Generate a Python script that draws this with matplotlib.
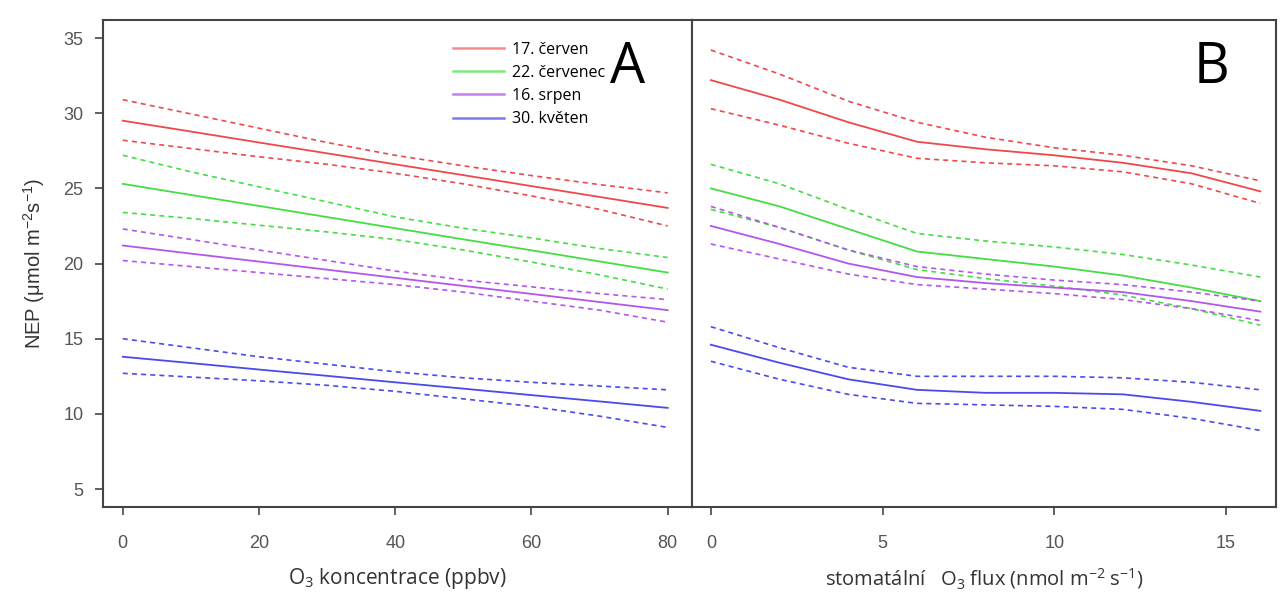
import numpy as np
import matplotlib.pyplot as plt

plt.rcParams['font.family'] = ['Liberation Sans', 'DejaVu Sans']
plt.rcParams['mathtext.default'] = 'regular'

# Panel A: O3 concentration (ppbv)
xa = [0, 10, 20, 30, 40, 50, 60, 70, 80]
a_red = [29.5, 28.78, 28.05, 27.33, 26.6, 25.88, 25.15, 24.43, 23.7]
a_red_hi = [30.9, 29.95, 29.0, 28.05, 27.2, 26.5, 25.85, 25.25, 24.7]
a_red_lo = [28.2, 27.65, 27.1, 26.6, 26.0, 25.3, 24.5, 23.6, 22.5]
a_green = [25.3, 24.56, 23.83, 23.09, 22.35, 21.61, 20.88, 20.14, 19.4]
a_green_hi = [27.2, 26.1, 25.1, 24.1, 23.1, 22.35, 21.7, 21.0, 20.4]
a_green_lo = [23.4, 23.0, 22.55, 22.1, 21.6, 20.9, 20.1, 19.25, 18.3]
a_purple = [21.2, 20.66, 20.13, 19.59, 19.05, 18.51, 17.98, 17.44, 16.9]
a_purple_hi = [22.3, 21.6, 20.9, 20.2, 19.5, 18.9, 18.45, 18.0, 17.6]
a_purple_lo = [20.2, 19.8, 19.4, 19.0, 18.6, 18.1, 17.5, 16.9, 16.1]
a_blue = [13.8, 13.38, 12.95, 12.53, 12.1, 11.68, 11.25, 10.83, 10.4]
a_blue_hi = [15.0, 14.4, 13.8, 13.3, 12.8, 12.4, 12.1, 11.85, 11.6]
a_blue_lo = [12.7, 12.45, 12.2, 11.9, 11.5, 11.0, 10.5, 9.85, 9.1]

# Panel B: stomatal O3 flux
xb = [0, 2, 4, 6, 8, 10, 12, 14, 16]
b_red = [32.2, 30.9, 29.4, 28.1, 27.6, 27.2, 26.7, 26.0, 24.8]
b_red_hi = [34.2, 32.6, 30.8, 29.4, 28.4, 27.7, 27.2, 26.5, 25.5]
b_red_lo = [30.3, 29.2, 28.0, 27.0, 26.7, 26.5, 26.1, 25.3, 24.0]
b_green = [25.0, 23.8, 22.3, 20.8, 20.3, 19.8, 19.2, 18.4, 17.5]
b_green_hi = [26.6, 25.3, 23.6, 22.0, 21.5, 21.1, 20.6, 19.9, 19.1]
b_green_lo = [23.6, 22.4, 20.9, 19.6, 19.0, 18.5, 17.9, 17.0, 15.9]
b_purple = [22.5, 21.3, 20.0, 19.1, 18.7, 18.4, 18.1, 17.5, 16.8]
b_purple_hi = [23.8, 22.4, 20.9, 19.8, 19.3, 18.9, 18.6, 18.1, 17.5]
b_purple_lo = [21.3, 20.3, 19.3, 18.6, 18.3, 18.0, 17.6, 17.0, 16.2]
b_blue = [14.6, 13.4, 12.3, 11.6, 11.4, 11.4, 11.3, 10.8, 10.2]
b_blue_hi = [15.8, 14.4, 13.1, 12.5, 12.5, 12.5, 12.4, 12.1, 11.6]
b_blue_lo = [13.5, 12.3, 11.3, 10.7, 10.6, 10.5, 10.3, 9.7, 8.9]

labels = ['17. červen', '22. červenec', '16. srpen', '30. květen']
colors = ['#f04848', '#44dd44', '#b455ee', '#4a4aee']
legend_colors = ['#f58a8a', '#80e880', '#c580f0', '#7c7cf0']

panel_a = [(a_red, a_red_hi, a_red_lo), (a_green, a_green_hi, a_green_lo),
           (a_purple, a_purple_hi, a_purple_lo), (a_blue, a_blue_hi, a_blue_lo)]
panel_b = [(b_red, b_red_hi, b_red_lo), (b_green, b_green_hi, b_green_lo),
           (b_purple, b_purple_hi, b_purple_lo), (b_blue, b_blue_hi, b_blue_lo)]

fig = plt.figure(figsize=(12.8, 5.98), dpi=100)
axA = fig.add_axes([0.0805, 0.152, 0.460, 0.8146])
axB = fig.add_axes([0.5406, 0.152, 0.4564, 0.8146])

edge = '#444444'
tick_col = '#555555'

for ax, x, data in [(axA, xa, panel_a), (axB, xb, panel_b)]:
    for (mid, hi, lo), c in zip(data, colors):
        ax.plot(x, mid, color=c, lw=1.3)
        ax.plot(x, hi, color=c, lw=1.2, ls=(0, (3, 2.5)))
        ax.plot(x, lo, color=c, lw=1.2, ls=(0, (3, 2.5)))
    ax.set_ylim(3.8, 36.2)
    for s in ax.spines.values():
        s.set_color(edge)
        s.set_linewidth(1.5)
    ax.tick_params(colors=edge, labelcolor=tick_col, labelsize=13,
                   length=6, width=1.2)
    ax.tick_params(axis='x', pad=14)
    ax.tick_params(axis='y', pad=8)

axA.set_xlim(-2.9, 83.55)
axA.set_xticks([0, 20, 40, 60, 80])
axA.set_yticks([5, 10, 15, 20, 25, 30, 35])
axB.set_xlim(-0.55, 16.46)
axB.set_xticks([0, 5, 10, 15])
axB.set_yticks([])

axA.set_ylabel('NEP (μmol m$^{-2}$s$^{-1}$)', fontsize=14.5, color='#333333', labelpad=12)
axA.set_xlabel('O$_3$ koncentrace (ppbv)', fontsize=15, color='#333333',
               family=['Open Sans', 'DejaVu Sans'], labelpad=10)
axB.set_xlabel('stomatální   O$_3$ flux (nmol m$^{-2}$ s$^{-1}$)', fontsize=14.5,
               color='#333333', family=['Open Sans', 'DejaVu Sans'], labelpad=10)

axA.text(0.89, 0.9, 'A', transform=axA.transAxes, fontsize=40,
         family=['Open Sans', 'DejaVu Sans'], ha='center', va='center')
axB.text(0.89, 0.9, 'B', transform=axB.transAxes, fontsize=40,
         family=['Open Sans', 'DejaVu Sans'], ha='center', va='center')

handles = [plt.Line2D([], [], color=c, lw=1.8) for c in legend_colors]
axA.legend(handles, labels, loc='upper left', bbox_to_anchor=(0.57, 0.985),
           frameon=False, handlelength=3.2, handletextpad=0.5,
           labelspacing=0.45, prop={'family': ['Open Sans', 'DejaVu Sans'], 'size': 11.5})

fig.savefig('out.png', dpi=100)
